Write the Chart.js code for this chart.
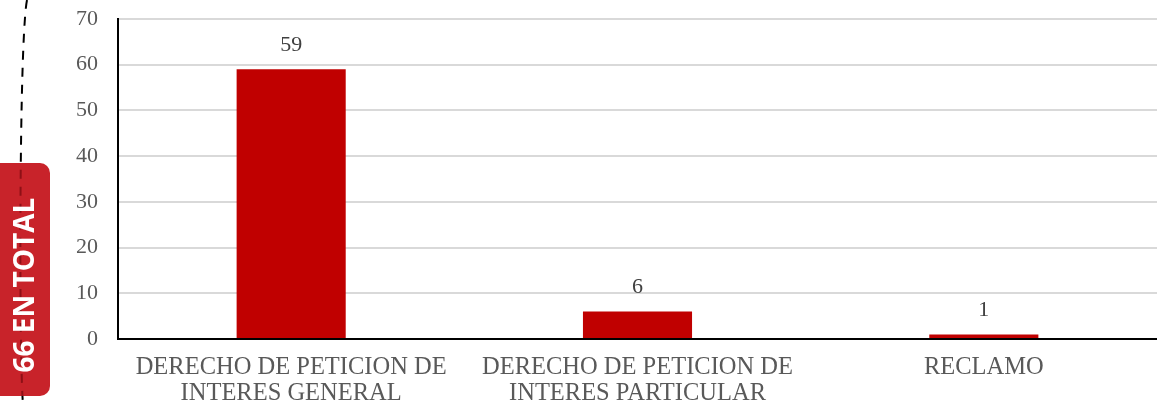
<!DOCTYPE html>
<html>
<head>
<meta charset="utf-8">
<script src="https://cdn.jsdelivr.net/npm/chart.js@4/dist/chart.umd.min.js"></script>
<style>
    html, body { margin: 0; padding: 0; background: #fff; }
    #wrap { width: 1157px; height: 404px; }
</style>
</head>
<body>
<div id="wrap"><canvas id="barChart" width="1157" height="404"></canvas></div>
<script>
const categories = [
    ["DERECHO DE PETICION DE", "INTERES GENERAL"],
    ["DERECHO DE PETICION DE", "INTERES PARTICULAR"],
    ["RECLAMO"]
];
const values = [59, 6, 1];
const yTicks = [0, 10, 20, 30, 40, 50, 60, 70];
const totalText = "66 EN TOTAL";

// value above each bar
const valueLabelPlugin = {
    id: 'valueLabels',
    afterDatasetsDraw(chart) {
        const ctx = chart.ctx;
        const meta = chart.getDatasetMeta(0);
        ctx.save();
        ctx.font = '22px "Liberation Serif"';
        ctx.fillStyle = '#404040';
        ctx.textAlign = 'center';
        ctx.textBaseline = 'middle';
        meta.data.forEach((bar, i) => {
            ctx.fillText(values[i], bar.x, bar.y - 24);
        });
        ctx.restore();
    }
};

// dashed line and red total badge on the left
const dashPath = (ctx, color) => {
    ctx.strokeStyle = color;
    ctx.lineWidth = 2;
    ctx.setLineDash([9, 8]);
    ctx.beginPath();
    ctx.moveTo(27, 0);
    ctx.bezierCurveTo(19, 40, 19, 360, 23, 404);
    ctx.stroke();
    ctx.setLineDash([]);
};

const totalBadgePlugin = {
    id: 'totalBadge',
    afterDraw(chart) {
        const ctx = chart.ctx;
        ctx.save();
        dashPath(ctx, '#000');

        ctx.fillStyle = '#C8232A';
        ctx.beginPath();
        ctx.roundRect(-10, 163, 60, 233, 10);
        ctx.fill();
        ctx.save();
        ctx.clip();
        dashPath(ctx, '#8E1016');
        ctx.restore();

        ctx.translate(26, 285);
        ctx.rotate(-Math.PI / 2);
        ctx.font = 'bold 28px "Open Sans"';
        ctx.fillStyle = '#fff';
        ctx.textAlign = 'center';
        ctx.textBaseline = 'middle';
        ctx.fillText(totalText, 0, 0);
        ctx.restore();
    }
};

new Chart(document.getElementById('barChart'), {
    type: 'bar',
    data: {
        labels: categories,
        datasets: [{
            data: values,
            backgroundColor: '#C00000',
            categoryPercentage: 1,
            barPercentage: 0.315
        }]
    },
    options: {
        responsive: false,
        animation: false,
        layout: { padding: { left: 0, right: 0, top: 19, bottom: 0 } },
        plugins: {
            legend: { display: false },
            tooltip: { enabled: false }
        },
        scales: {
            x: {
                grid: { display: false },
                border: { color: '#000', width: 2 },
                ticks: {
                    color: '#595959',
                    font: { family: 'Liberation Serif', size: 24.5, lineHeight: 1.06 },
                    padding: 8,
                    maxRotation: 0
                },
                afterFit(scale) { scale.height = 65; }
            },
            y: {
                min: 0,
                max: 70,
                afterBuildTicks(scale) { scale.ticks = yTicks.map(v => ({ value: v })); },
                grid: { color: '#d9d9d9', lineWidth: 2, drawTicks: false },
                border: { color: '#000', width: 2 },
                ticks: {
                    color: '#595959',
                    font: { family: 'Liberation Serif', size: 22 },
                    padding: 20
                },
                afterFit(scale) {
                    scale.width = 118;
                    scale.paddingTop = 0;
                    scale.paddingBottom = 0;
                }
            }
        }
    },
    plugins: [valueLabelPlugin, totalBadgePlugin]
});
</script>
</body>
</html>
